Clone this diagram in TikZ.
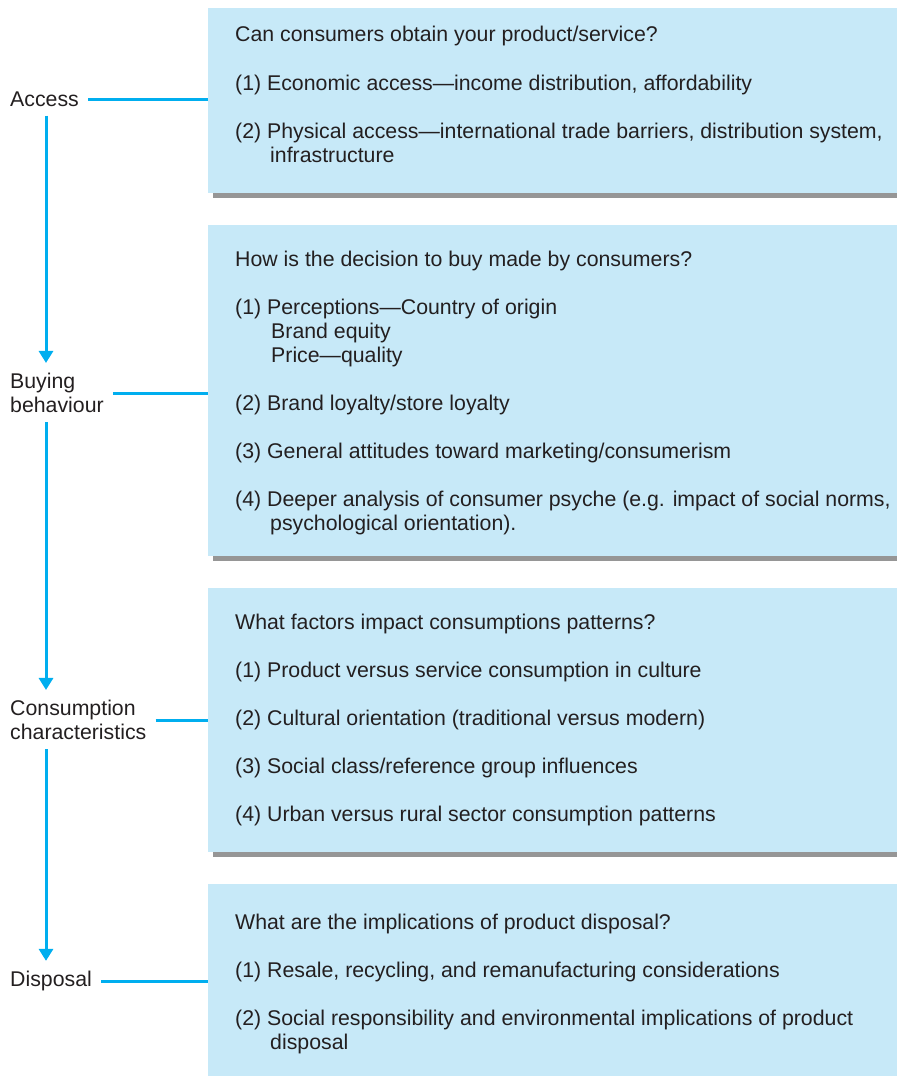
\documentclass[tikz,border=0pt]{standalone}
\usepackage{fontspec}
\setmainfont{Liberation Sans}
\usetikzlibrary{arrows.meta}
\definecolor{panelblue}{HTML}{C7E9F8}
\definecolor{linkblue}{HTML}{00AEEF}
\definecolor{shadowgray}{HTML}{969696}
\definecolor{inkgray}{HTML}{231F20}
\tikzset{
  stage/.style={anchor=west, inner sep=0pt, align=left, text=inkgray,
    font=\fontsize{21.3}{24}\selectfont},
  % multi-line items are placed by the baseline of their last line
  item/.style={anchor=base west, inner sep=0pt, align=left, text=inkgray,
    font=\fontsize{21.3}{24}\selectfont},
  panel/.style={fill=panelblue, inner sep=0pt, anchor=north west, minimum width=689pt},
  shade/.style={fill=shadowgray},
  link/.style={draw=linkblue, line width=3pt},
  flow/.style={link, -{Triangle[width=14pt,length=12pt]}, shorten <=9pt, shorten >=10pt},
}
\begin{document}
\begin{tikzpicture}[x=1pt,y=-1pt]
      \useasboundingbox (0,0) rectangle (897,1076);
      % panels and their shadows
      \fill[shade] (213,193) rectangle (897,198);
      \fill[shade] (213,556) rectangle (897,561);
      \fill[shade] (213,852) rectangle (897,857);
      \node[panel, minimum height=185pt] (accbox) at (208,8) {};
      \node[panel, minimum height=331pt] (buybox) at (208,225) {};
      \node[panel, minimum height=264pt] (conbox) at (208,588) {};
      \node[panel, minimum height=192pt] (disbox) at (208,884) {};
      % stages
      \node[stage] (access) at (10,99) {Access};
      \node[stage] (buying) at (10,393) {Buying\\behaviour};
      \node[stage] (consumption) at (10,720) {Consumption\\characteristics};
      \node[stage] (disposal) at (10,981) {Disposal};
      % questions
      \node[item] (acc-q) at (235,41) {Can consumers obtain your product/service?};
      \node[item] (acc-1) at (235,90) {(1) Economic access---income distribution, affordability};
      \node[item] (acc-2) at (235,162) {(2) Physical access---international trade barriers, distribution system,\\\hspace*{35pt}infrastructure};
      \node[item] (buy-q) at (235,266) {How is the decision to buy made by consumers?};
      \node[item] (buy-1) at (235,362) {(1) Perceptions---Country of origin\\\hspace*{36pt}Brand equity\\\hspace*{36pt}Price---quality};
      \node[item] (buy-2) at (235,410) {(2) Brand loyalty/store loyalty};
      \node[item] (buy-3) at (235,458) {(3) General attitudes toward marketing/consumerism};
      \node[item] (buy-4) at (235,530) {(4) Deeper analysis of consumer psyche (e.g. impact of social norms,\\\hspace*{35pt}psychological orientation).};
      \node[item] (con-q) at (235,629) {What factors impact consumptions patterns?};
      \node[item] (con-1) at (235,677) {(1) Product versus service consumption in culture};
      \node[item] (con-2) at (235,725) {(2) Cultural orientation (traditional versus modern)};
      \node[item] (con-3) at (235,773) {(3) Social class/reference group influences};
      \node[item] (con-4) at (235,821) {(4) Urban versus rural sector consumption patterns};
      \node[item] (dis-q) at (235,929) {What are the implications of product disposal?};
      \node[item] (dis-1) at (235,977) {(1) Resale, recycling, and remanufacturing considerations};
      \node[item] (dis-2) at (235,1049) {(2) Social responsibility and environmental implications of product\\\hspace*{35pt}disposal};
      % links
      \begin{scope}[link, shorten <=9pt]
        \draw (access.east) -- (access.east -| accbox.west);
        \draw (buying.east) -- (buying.east -| buybox.west);
        \draw (consumption.east) -- (consumption.east -| conbox.west);
        \draw (disposal.east) -- (disposal.east -| disbox.west);
      \end{scope}
      \draw[flow] ([xshift=36pt]access.south west) -- ([xshift=36pt]buying.north west);
      \draw[flow] ([xshift=36pt]buying.south west) -- ([xshift=36pt]consumption.north west);
      \draw[flow] ([xshift=36pt]consumption.south west) -- ([xshift=36pt]disposal.north west);
    \end{tikzpicture}
\end{document}
